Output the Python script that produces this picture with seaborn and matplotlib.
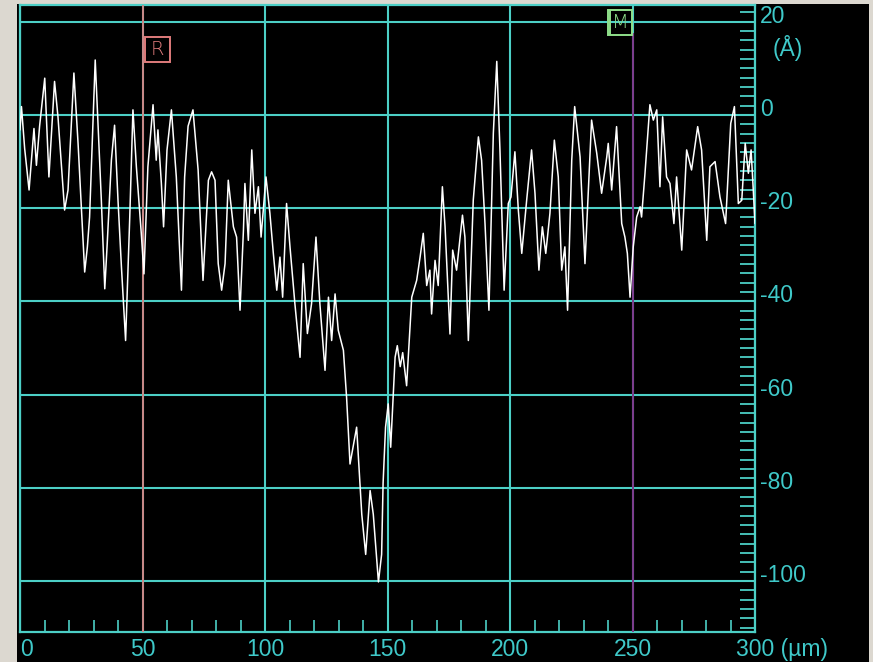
import matplotlib
matplotlib.use("Agg")
import matplotlib.pyplot as plt
import numpy as np
import pandas as pd
import seaborn as sns
from matplotlib.patches import Rectangle
from matplotlib.ticker import MultipleLocator
from matplotlib.transforms import ScaledTranslation

# Surface profile: scan position (µm) and height (Å)
position_um = [
    0.0, 0.6, 1.9, 3.7, 5.7, 6.7, 8.0, 10.1, 11.8, 14.1, 15.5, 18.2, 19.6, 22.0, 23.7,
    26.4, 27.5, 28.4, 30.7, 33.2, 34.6, 35.6, 37.3, 38.6, 40.0, 41.4, 43.1, 44.8, 46.1,
    47.5, 49.5, 50.6, 52.2, 54.3, 55.6, 56.3, 57.7, 58.6, 60.0, 61.8, 63.8, 65.9, 67.2,
    68.6, 70.6, 72.7, 74.7, 76.9, 78.2, 79.6, 80.9, 82.3, 83.7, 85.0, 87.1, 88.4, 89.8,
    91.2, 91.8, 93.2, 94.6, 95.9, 97.3, 98.4, 100.4, 102.0, 103.4, 104.8, 106.1, 107.2,
    108.8, 110.2, 112.2, 114.3, 115.6, 117.3, 119.0, 120.8, 122.4, 124.5, 125.9, 127.2,
    128.6, 129.9, 132.0, 133.3, 134.7, 137.4, 139.5, 141.1, 142.9, 144.2, 146.3, 147.6,
    148.2, 149.2, 150.3, 151.3, 153.1, 154.0, 155.2, 156.2, 157.8, 159.9, 161.9, 163.3,
    164.6, 166.0, 167.3, 168.0, 169.4, 170.7, 172.4, 173.5, 175.5, 176.6, 178.2, 180.6,
    181.6, 183.0, 185.0, 187.1, 188.4, 189.8, 191.4, 193.2, 194.6, 195.9, 197.6, 199.3,
    200.4, 202.0, 203.4, 204.8, 206.8, 208.8, 210.2, 211.8, 213.2, 214.6, 216.3, 218.1,
    219.7, 221.1, 222.4, 223.5, 225.2, 226.4, 228.6, 230.6, 232.0, 233.3, 235.4, 237.4,
    239.5, 240.1, 241.5, 243.5, 245.6, 246.9, 247.9, 249.0, 250.3, 251.7, 253.1, 253.7,
    255.1, 257.1, 258.5, 259.9, 261.2, 262.3, 263.9, 265.3, 266.9, 268.0, 270.1, 272.1,
    274.1, 276.6, 278.2, 280.3, 281.6, 283.7, 285.7, 288.0, 290.1, 291.6, 293.2, 294.6,
    296.0, 297.3, 298.4, 299.3, 300.0,
]
height_A = [
    -3.2, 1.8, -7.2, -16.1, -2.9, -10.8, -2.4, 7.9, -13.3, 7.2, -0.4, -20.4, -16.1, 9.0, -6.1,
    -33.7, -28.3, -21.9, 11.8, -18.3, -37.3, -27.6, -9.7, -2.2, -18.3, -32.6, -48.4, -21.9, 1.1,
    -11.1, -25.4, -34.1, -11.1, 2.2, -9.7, -3.2, -14.7, -24.0, -7.5, 1.1, -13.3, -37.6, -13.3,
    -2.4, 1.1, -11.8, -35.5, -14.0, -12.2, -14.0, -31.9, -37.6, -31.9, -14.0, -24.0, -26.2, -41.9,
    -24.7, -14.7, -26.9, -7.5, -21.1, -15.4, -26.2, -13.3, -21.1, -29.7, -37.6, -30.5, -39.1,
    -19.0, -28.3, -40.5, -52.0, -31.9, -46.9, -40.5, -26.2, -40.5, -54.8, -39.1, -48.4,
    -38.4, -46.2, -50.5, -60.6, -74.9, -67.0, -85.7, -94.3, -80.6, -85.7, -100.2, -94.3,
    -79.0, -67.0, -62.0, -71.3, -52.0, -49.5, -54.0, -51.0, -58.1, -39.1, -35.5, -30.5,
    -25.4, -36.6, -33.3, -42.7, -31.2, -36.6, -15.4, -24.0, -47.0, -29.0, -33.3, -21.5,
    -26.2, -48.4, -18.3, -4.7, -9.7, -23.3, -41.9, -3.9, 11.5, -7.5, -37.6, -19.0,
    -17.6, -7.9, -20.4, -29.7, -18.3, -7.5, -16.8, -33.3, -24.0, -29.7, -21.1, -5.4,
    -13.3, -33.3, -28.3, -41.9, -9.7, 1.8, -9.0, -31.9, -16.1, -1.1, -8.2, -16.8,
    -9.0, -6.1, -16.1, -2.5, -23.3, -26.2, -29.7, -39.1, -28.3, -21.9, -19.7, -21.9,
    -12.5, 2.2, -1.1, 1.1, -15.4, -0.4, -13.3, -14.7, -23.3, -13.3, -29.0, -7.5,
    -11.8, -2.5, -7.5, -26.9, -11.1, -10.0, -17.6, -23.3, -1.8, 1.8, -19.0, -18.3,
    -6.1, -12.5, -7.5, -16.1, -23.3,
]

x_ticks = [0, 50, 100, 150, 200, 250, 300]
x_tick_labels = ["0", "50", "100", "150", "200", "250", "300 (µm)"]
y_ticks = [20, 0, -20, -40, -60, -80, -100]
y_tick_labels = ["20", "0", "-20", "-40", "-60", "-80", "-100"]
y_unit = "(Å)"
cursor_names = ["R", "M"]
cursor_positions = [50, 250]

CYAN = "#4ccfc6"
LABEL_CYAN = "#3fc9c9"
SALMON = "#e07c7c"
PURPLE = "#7d3a8c"
GREEN = "#8fe08a"
FRAME_GRAY = "#dcd8d0"
LABEL_SIZE = 16.5

sns.set_theme(style="dark")
plt.rcParams["font.family"] = ["Liberation Sans", "DejaVu Sans"]

W, H = 873, 662
fig = plt.figure(figsize=(W / 100, H / 100), dpi=100, facecolor="black")
ax = fig.add_axes([20 / W, (H - 632) / H, (755 - 20) / W, (632 - 5) / H])
ax.set_facecolor("black")

profile = pd.DataFrame({"position": position_um, "height": height_A})
sns.lineplot(data=profile, x="position", y="height", ax=ax, color="white",
             linewidth=1.1, sort=False, estimator=None, zorder=5)

ax.set_xlim(0, 300)
ax.set_ylim(-110.95, 23.6)
ax.set_xlabel("")
ax.set_ylabel("")

# grid on the major positions
ax.set_xticks(x_ticks)
ax.set_xticklabels(x_tick_labels)
ax.set_yticks(y_ticks)
ax.set_yticklabels(y_tick_labels)
ax.grid(True, which="major", color=CYAN, linewidth=1.5, zorder=1)
ax.set_axisbelow(True)

for side in ["left", "right", "top", "bottom"]:
    ax.spines[side].set_visible(True)
    ax.spines[side].set_color(CYAN)
    ax.spines[side].set_linewidth(1.6)

ax.xaxis.set_minor_locator(MultipleLocator(10))
ax.yaxis.set_minor_locator(MultipleLocator(2))
ax.tick_params(axis="x", which="major", length=0, pad=4, labelsize=LABEL_SIZE,
               labelcolor=LABEL_CYAN, bottom=True, top=False)
ax.tick_params(axis="x", which="minor", direction="in", length=8.5, width=1.2,
               color=CYAN, bottom=True, top=False)
ax.tick_params(axis="y", which="major", length=0, pad=3.6, labelsize=LABEL_SIZE,
               labelcolor=LABEL_CYAN, left=False, right=True,
               labelleft=False, labelright=True)
ax.tick_params(axis="y", which="minor", direction="in", length=11, width=1.3,
               color=CYAN, left=False, right=True)

# first x label starts at the origin, last one is centred on its number
xl = ax.get_xticklabels()
xl[0].set_horizontalalignment("left")
xl[-1].set_horizontalalignment("left")
xl[-1].set_transform(xl[-1].get_transform()
                     + ScaledTranslation(-0.19, 0, fig.dpi_scale_trans))
for lab in ax.get_yticklabels():
    lab.set_transform(lab.get_transform()
                      + ScaledTranslation(0, 0.08, fig.dpi_scale_trans))

unit = ax.text(1.0, 20, y_unit, color=LABEL_CYAN, fontsize=LABEL_SIZE,
               ha="left", va="center", clip_on=False)
unit.set_transform(ax.get_yaxis_transform()
                   + ScaledTranslation(0.175, -0.26, fig.dpi_scale_trans))

# cursors
r_x, m_x = cursor_positions
ax.axvline(r_x, color=SALMON, linewidth=1.2, zorder=3)
ax.vlines(m_x, -110.95, 17.6, color=PURPLE, linewidth=1.4, zorder=3)

ax.add_patch(Rectangle((51.0, 11.4), 10.2, 5.3, fill=False, edgecolor=SALMON,
                       linewidth=1.4, zorder=6))
ax.text(56.0, 14.0, cursor_names[0], color=SALMON, fontsize=14, ha="center",
        va="center", family=["DejaVu Sans"], fontweight="light", zorder=7)
ax.add_patch(Rectangle((240.2, 17.2), 9.6, 5.3, fill=False, edgecolor=GREEN,
                       linewidth=1.4, zorder=6))
ax.vlines(240.7, 17.2, 22.5, color=GREEN, linewidth=1.4, zorder=6)
ax.text(245.2, 19.8, cursor_names[1], color=GREEN, fontsize=14, ha="center",
        va="center", family=["DejaVu Sans"], fontweight="light", zorder=7)

# window frame
fig.patches.append(Rectangle((0, 0), 17 / W, 1, transform=fig.transFigure,
                             facecolor=FRAME_GRAY, edgecolor="none", zorder=-1))
fig.patches.append(Rectangle((0, 1 - 4 / H), 1, 4 / H, transform=fig.transFigure,
                             facecolor=FRAME_GRAY, edgecolor="none", zorder=-1))
fig.patches.append(Rectangle((869 / W, 0), 4 / W, 1, transform=fig.transFigure,
                             facecolor=FRAME_GRAY, edgecolor="none", zorder=-1))

fig.savefig("out.png", dpi=100, facecolor="black")
